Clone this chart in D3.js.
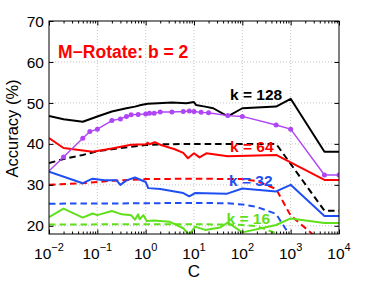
<!DOCTYPE html>
<html>
<head>
<meta charset="utf-8">
<script src="https://cdn.jsdelivr.net/npm/d3@7"></script>
<style>
  html, body { margin: 0; padding: 0; background: #fff; }
  svg { display: block; }
  text { font-family: "Liberation Sans", Arial, Helvetica, sans-serif; }
</style>
</head>
<body>
<svg id="chart" width="374" height="281"></svg>
<script>
// ---------- data ----------
const xMajor = [1e-2, 1e-1, 1, 10, 100, 1000, 1e4];
const xExp = ["−2", "−1", "0", "1", "2", "3", "4"];
const yTicks = [20, 30, 40, 50, 60, 70];

// purple line with markers
const cPurple = [0.01,0.02,0.05,0.07,0.1,0.2,0.3,0.4,0.5,0.7,1,1.2,1.5,2,3.5,6,8,10,14,20,50,100,500,1000,5000,10000];
const accPurple = [33.4,36.8,41.4,43.0,43.6,45.7,46.1,46.7,47.1,47.2,47.3,47.5,47.5,47.8,47.8,47.9,48.0,47.9,47.7,47.6,46.9,46.7,44.6,43.6,32.4,32.4];

// k = 128 solid
const cK128 = [0.01,0.02,0.05,0.1,0.2,0.4,0.6,0.8,1.1,1.8,3.5,7,10,11,17,25,50,100,500,1000,5000,10000];
const accK128 = [46.8,46.0,45.4,46.7,47.9,48.7,49.1,49.5,49.8,49.9,50.1,49.9,50.2,49.5,49.1,48.7,46.7,48.7,49.1,51.0,38.1,38.1];
// k = 128 dashed
const cK128d = [0.01,0.02,0.05,0.1,0.2,0.5,1,2,10,100,500,5000,10000];
const accK128d = [35.3,36.3,37.3,38.2,38.7,39.3,39.7,39.9,40.0,40.0,40.0,23.7,23.7];

// k = 64 solid
const cK64 = [0.01,0.02,0.08,0.2,0.5,1,1.1,1.2,1.55,2,4,6,7.5,10,13,18,50,500,5000,10000];
const accK64 = [41.4,39.0,38.1,38.9,39.8,39.9,40.3,39.9,40.4,39.8,38.7,37.8,36.5,37.7,36.7,37.7,37.0,37.3,31.2,31.2];
// k = 64 dashed
const cK64d = [0.01,0.05,0.2,1,10,100,200,500,1000,5000,10000];
const accK64d = [30.0,30.4,31.0,31.4,31.5,31.4,30.9,29.0,22.5,15.5,15.5];

// k = 32 solid
const cK32 = [0.01,0.05,0.08,0.14,0.25,0.3,0.4,0.6,1,1.13,2,6,8,10.5,47,100,500,1000,5000,10000];
const accK32 = [33.2,30.4,31.5,31.1,31.1,30.0,31.1,31.8,30.7,29.2,29.0,28.0,27.2,28.0,27.8,29.1,28.4,30.0,22.4,22.4];
// k = 32 dashed
const cK32d = [0.01,1,10,50,100,200,500,1000,5000];
const accK32d = [25.4,25.5,25.6,25.5,25.2,24.6,22.9,17.3,10.0];

// k = 16 solid
const cK16 = [0.01,0.02,0.05,0.08,0.1,0.2,0.32,0.5,0.6,0.7,0.75,0.9,1.05,1.5,3.1,6,8,10.5,17,35,50,100,500,1000,5000,10000];
const accK16 = [22.1,24.2,22.0,23.0,22.6,23.6,22.8,22.6,21.5,22.8,21.6,22.6,21.2,21.3,21.0,19.4,17.8,19.8,19.0,19.6,20.8,18.4,20.2,21.8,20.7,20.7];
// k = 16 dashed
const cK16d = [0.01,1,10,50,100,200,500,1000];
const accK16d = [20.3,20.4,20.4,20.3,20.2,19.9,18.2,16.0];

const colors = { black: "#000000", red: "#ff0000", blue: "#1f4ff2", green: "#5fe01a", purple: "#b045f5" };

// ---------- layout ----------
const svg = d3.select("#chart");
const L = 49, R = 339, T = 21, B = 234;
const x = d3.scaleLog().domain([1e-2, 1e4]).range([L, R]);
const y = d3.scaleLinear().domain([18, 70]).range([B, T]);

// grid
const grid = svg.append("g");
grid.selectAll("line.gx").data(xMajor.slice(1, -1)).enter().append("line")
  .attr("x1", d => x(d)).attr("x2", d => x(d)).attr("y1", T).attr("y2", B)
  .attr("stroke", "#c4c4c4").attr("stroke-width", 1).attr("stroke-dasharray", "1,2");
grid.selectAll("line.gy").data(yTicks.filter(v => v !== 70)).enter().append("line")
  .attr("x1", L).attr("x2", R).attr("y1", d => y(d)).attr("y2", d => y(d))
  .attr("stroke", "#c4c4c4").attr("stroke-width", 1).attr("stroke-dasharray", "1,2");

// clip
svg.append("clipPath").attr("id", "clip").append("rect")
  .attr("x", L).attr("y", T).attr("width", R - L).attr("height", B - T);
const plot = svg.append("g").attr("clip-path", "url(#clip)");

const line = d3.line().x(d => x(d[0])).y(d => y(d[1]));
function drawSeries(cs, vs, color, dashed, width) {
  plot.append("path")
    .datum(cs.map((c, i) => [c, vs[i]]))
    .attr("d", line)
    .attr("fill", "none")
    .attr("stroke", color)
    .attr("stroke-width", width)
    .attr("stroke-linejoin", "round")
    .attr("stroke-dasharray", dashed ? "6.5,4" : null);
}
drawSeries(cK16d, accK16d, colors.green, true, 2);
drawSeries(cK32d, accK32d, colors.blue, true, 2);
drawSeries(cK64d, accK64d, colors.red, true, 2);
drawSeries(cK128d, accK128d, colors.black, true, 2);
drawSeries(cK16, accK16, colors.green, false, 2);
drawSeries(cK32, accK32, colors.blue, false, 2);
drawSeries(cK64, accK64, colors.red, false, 2);
drawSeries(cK128, accK128, colors.black, false, 2);
drawSeries(cPurple, accPurple, colors.purple, false, 1.4);
plot.selectAll("circle.pm").data(cPurple.map((c, i) => [c, accPurple[i]]).slice(1)).enter().append("circle")
  .attr("cx", d => x(d[0])).attr("cy", d => y(d[1])).attr("r", 2.5)
  .attr("fill", colors.purple);

// axes (ticks inward)
const minor = [];
for (let e = -2; e < 4; e++) for (let m = 2; m <= 9; m++) minor.push(m * Math.pow(10, e));
function tickAxes(gen, tr, vals, size) {
  const g = svg.append("g").attr("transform", tr)
    .call(gen.tickValues(vals).tickSize(size).tickSizeOuter(0).tickFormat(""));
  g.select(".domain").remove();
  g.selectAll(".tick line").attr("stroke", "#000").attr("stroke-width", 1);
}
tickAxes(d3.axisBottom(x), `translate(0,${B})`, xMajor, -4.5);
tickAxes(d3.axisBottom(x), `translate(0,${B})`, minor, -2.5);
tickAxes(d3.axisTop(x), `translate(0,${T})`, xMajor, -4.5);
tickAxes(d3.axisTop(x), `translate(0,${T})`, minor, -2.5);
tickAxes(d3.axisLeft(y), `translate(${L},0)`, yTicks, -4.5);
tickAxes(d3.axisRight(y), `translate(${R},0)`, yTicks, -4.5);

// box
svg.append("rect").attr("x", L).attr("y", T).attr("width", R - L).attr("height", B - T)
  .attr("fill", "none").attr("stroke", "#000").attr("stroke-width", 1);

// y tick labels
svg.selectAll("text.yl").data(yTicks).enter().append("text")
  .attr("x", L - 5).attr("y", d => y(d)).attr("dy", "0.36em")
  .attr("text-anchor", "end").attr("font-size", 15.5).attr("fill", "#000")
  .text(d => d);

// x tick labels 10^e
xMajor.forEach((v, i) => {
  const t = svg.append("text").attr("x", x(v)).attr("y", 258.5)
    .attr("text-anchor", "middle").attr("font-size", 15.5).attr("fill", "#000");
  t.append("tspan").text("10");
  t.append("tspan").attr("dy", -7.5).attr("font-size", 11).text(xExp[i]);
});

// axis titles
svg.append("text").attr("x", (L + R) / 2).attr("y", 276.5).attr("text-anchor", "middle")
  .attr("font-size", 17).attr("fill", "#000").text("C");
svg.append("text").attr("transform", `translate(18,${(T + B) / 2 + 1}) rotate(-90)`)
  .attr("text-anchor", "middle").attr("font-size", 16.5).attr("fill", "#000").text("Accuracy (%)");

// annotations
svg.append("text").attr("x", 58).attr("y", 58).attr("font-size", 17.5).attr("font-weight", "bold")
  .attr("fill", colors.red).text("M−Rotate: b = 2");
const ann = [
  { t: "k = 128", c: colors.black, x: 230, y: 100 },
  { t: "k = 64", c: colors.red, x: 230, y: 152 },
  { t: "k = 32", c: colors.blue, x: 229, y: 185.5 },
  { t: "k = 16", c: colors.green, x: 226.5, y: 224 }
];
ann.forEach(a => svg.append("text").attr("x", a.x).attr("y", a.y)
  .attr("font-size", 15.5).attr("font-weight", "bold").attr("fill", a.c).text(a.t));
</script>
</body>
</html>
